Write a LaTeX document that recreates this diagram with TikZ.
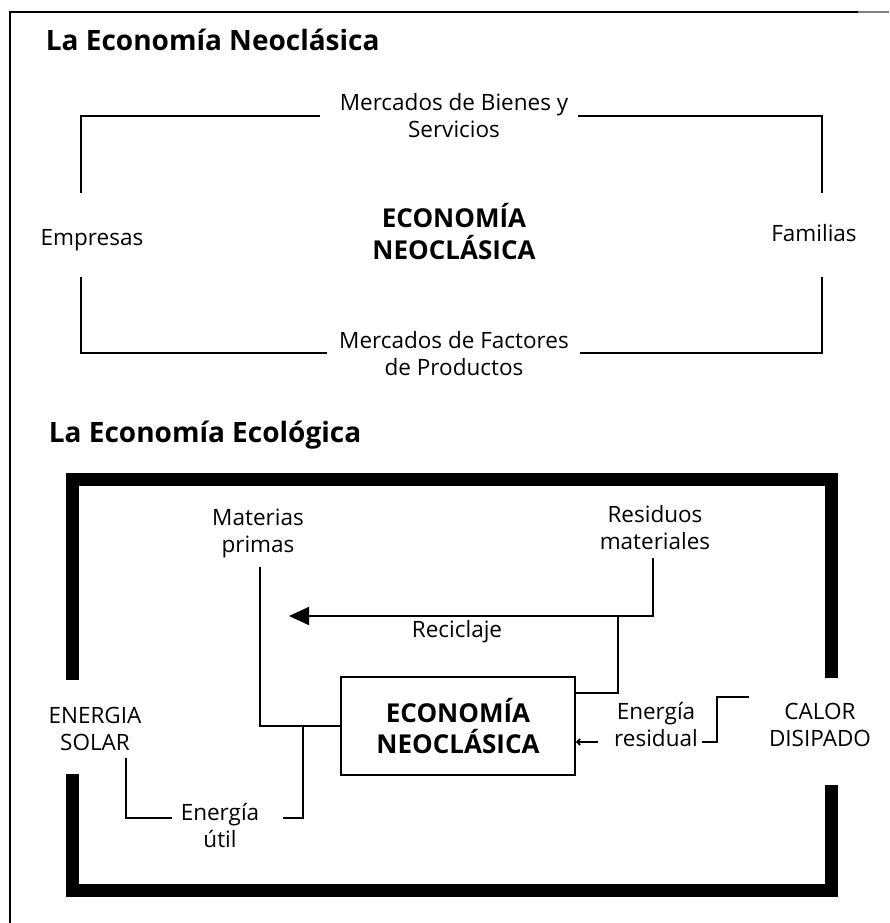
\documentclass[tikz,border=0pt]{standalone}
\usepackage{fontspec}
\setmainfont{Open Sans}
\usetikzlibrary{arrows.meta}
\begin{document}
\begin{tikzpicture}[x=1pt, y=-1pt, line width=1.8pt,
    txt/.style={font=\fontsize{22.5}{27}\selectfont, align=center, inner sep=0pt, anchor=base},
    ttl/.style={font=\bfseries\fontsize{28}{32}\selectfont, inner sep=0pt, anchor=base west},
    bold/.style={font=\bfseries\fontsize{26}{31.5}\selectfont, align=center, inner sep=0pt}]
  \useasboundingbox (0,0) rectangle (889,923);
  \coordinate (ftr) at (858,12);
  \coordinate (ftl) at (10,12);
  \coordinate (fbl) at (10,923);
  \draw (ftr) -- (ftl) -- (fbl);
  \draw[gray, line width=1.2pt] (ftr) -- (889,12);

  \node[ttl] (tneo) at (45,51) {La Economía Neoclásica};
  \node[txt] (bienes) at (454,138) {Mercados de Bienes y\\Servicios};
  \node[txt] (factores) at (454,375) {Mercados de Factores\\de Productos};
  \node[txt] (empresas) at (92,245) {Empresas};
  \node[txt] (familias) at (814,241) {Familias};
  \node[bold, anchor=base] (neo) at (454,259) {ECONOMÍA\\NEOCLÁSICA};
  \coordinate (b1) at (320,116);
  \coordinate (b2) at (81,116);
  \coordinate (b3) at (81,193);
  \draw (b1) -- (b2) -- (b3);
  \coordinate (b4) at (578,116);
  \coordinate (b5) at (822,116);
  \coordinate (b6) at (822,193);
  \draw (b4) -- (b5) -- (b6);
  \coordinate (f1) at (81,277);
  \coordinate (f2) at (81,353);
  \coordinate (f3) at (327,353);
  \draw (f1) -- (f2) -- (f3);
  \coordinate (f4) at (822,277);
  \coordinate (f5) at (822,353);
  \coordinate (f6) at (580,353);
  \draw (f4) -- (f5) -- (f6);

  \node[ttl] (teco) at (48,442) {La Economía Ecológica};
  \draw[line width=13pt] (72,680) -- (72,479) -- (831,479) -- (831,678);
  \draw[line width=13pt] (72,774) -- (72,890) -- (831,890) -- (831,785);
  \node[bold, draw, minimum width=234pt, minimum height=98pt] (box) at (458,726) {ECONOMÍA\\NEOCLÁSICA};
  \node[txt] (materias) at (258,552) {Materias\\primas};
  \node[txt] (residuos) at (655,549) {Residuos\\materiales};
  \node[txt] (reciclaje) at (457,637) {Reciclaje};
  \node[txt] (solar) at (95,750) {ENERGIA\\SOLAR};
  \node[txt] (util) at (220,847) {Energía\\útil};
  \node[txt] (residual) at (656,746) {Energía\\residual};
  \node[txt] (calor) at (820,746) {CALOR\\DISIPADO};

  \coordinate (mp) at (260,567);
  \draw (mp) |- (box.west);
  \coordinate (eu0) at (303,726);
  \coordinate (eu1) at (283,818);
  \draw (eu0) |- (eu1);
  \coordinate (es0) at (126,758);
  \coordinate (es1) at (172,818);
  \draw (es0) |- (es1);
  \coordinate (rm) at (653,558);
  \coordinate (rt) at (289,616);
  \draw[-{Triangle[length=20pt,width=18pt]}] (rm) |- (rt);
  \coordinate (rb) at (618,616);
  \draw (rb) |- ([yshift=33pt]box.east);
  \coordinate (er) at (598,742);
  \draw[-{Straight Barb[length=3pt,width=6pt]}] (er) -- (er -| box.east);
  \coordinate (ca) at (702,742);
  \coordinate (cb) at (717,697);
  \coordinate (cc) at (749,697);
  \draw (ca) -| (cb) -- (cc);
\end{tikzpicture}
\end{document}
